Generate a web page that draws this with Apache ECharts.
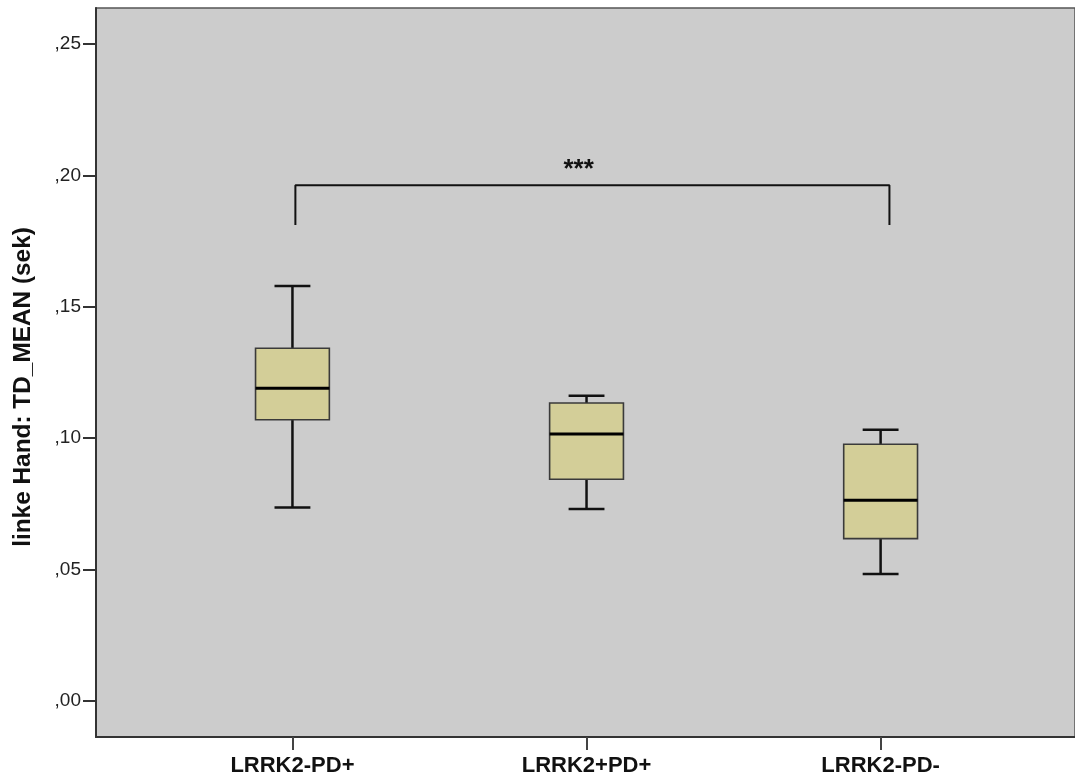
<!DOCTYPE html>
<html>
<head>
<meta charset="utf-8">
<script src="https://cdn.jsdelivr.net/npm/echarts@6/dist/echarts.min.js"></script>
<style>
  html, body { margin: 0; padding: 0; background: #ffffff; }
  #chart { width: 1075px; height: 782px; }
</style>
</head>
<body>
<div id="chart"></div>
<script>
// Groups and their box-plot summaries (seconds)
const categories = ['LRRK2-PD+', 'LRRK2+PD+', 'LRRK2-PD-'];
const whiskerLow  = [0.0736, 0.0731, 0.0483];
const quartile1   = [0.1070, 0.0844, 0.0618];
const medians     = [0.1190, 0.1016, 0.0764];
const quartile3   = [0.1342, 0.1134, 0.0977];
const whiskerHigh = [0.1579, 0.1162, 0.1032];

// Y axis ticks and their German-style labels
const yTicks = [0, 0.05, 0.10, 0.15, 0.20, 0.25];
const yTickLabels = [',00', ',05', ',10', ',15', ',20', ',25'];

// Significance bracket between the first and last group
const bracketX = [0.01, 2.03];
const bracketY = [0.1811, 0.1963];
const bracketText = '***';

const yTitle = 'linke Hand: TD_MEAN (sek)';

const boxData = categories.map((c, i) => [i, whiskerLow[i], quartile1[i], medians[i], quartile3[i], whiskerHigh[i]]);
const bracketData = [
  [bracketX[0], bracketY[0]],
  [bracketX[0], bracketY[1]],
  [bracketX[1], bracketY[1]],
  [bracketX[1], bracketY[0]]
];

const BOX_W = 0.251;   // box width in x units
const CAP_W = 0.122;   // whisker cap width in x units

function renderBox(params, api) {
  const x = api.value(0);
  const lo = api.coord([x, api.value(1)]);
  const q1 = api.coord([x, api.value(2)]);
  const md = api.coord([x, api.value(3)]);
  const q3 = api.coord([x, api.value(4)]);
  const hi = api.coord([x, api.value(5)]);
  const bw = api.size([BOX_W, 0])[0];
  const cw = api.size([CAP_W, 0])[0];
  const cx = lo[0];
  const lineStyle = { stroke: '#111111', lineWidth: 2.5 };
  return {
    type: 'group',
    children: [
      { type: 'line', shape: { x1: cx, y1: hi[1], x2: cx, y2: q3[1] }, style: lineStyle },
      { type: 'line', shape: { x1: cx, y1: q1[1], x2: cx, y2: lo[1] }, style: lineStyle },
      { type: 'line', shape: { x1: cx - cw / 2, y1: hi[1], x2: cx + cw / 2, y2: hi[1] }, style: lineStyle },
      { type: 'line', shape: { x1: cx - cw / 2, y1: lo[1], x2: cx + cw / 2, y2: lo[1] }, style: lineStyle },
      { type: 'rect', shape: { x: cx - bw / 2, y: q3[1], width: bw, height: q1[1] - q3[1] },
        style: { fill: '#d3ce98', stroke: '#3a3a3a', lineWidth: 1.6 } },
      { type: 'line', shape: { x1: cx - bw / 2, y1: md[1], x2: cx + bw / 2, y2: md[1] },
        style: { stroke: '#000000', lineWidth: 3 } }
    ]
  };
}

const chart = echarts.init(document.getElementById('chart'), null, { renderer: 'canvas' });

chart.setOption({
  animation: false,
  backgroundColor: '#ffffff',
  grid: {
    left: 96, top: 8, right: -3, bottom: 45,
    show: true,
    backgroundColor: '#cccccc',
    borderColor: '#555555',
    borderWidth: 1.5
  },
  xAxis: {
    type: 'value',
    min: -0.668,
    max: 2.661,
    splitLine: { show: false },
    axisLine: { show: true, onZero: false, lineStyle: { color: '#333333', width: 2 } },
    axisTick: {
      show: true, length: 13,
      customValues: categories.map((c, i) => i),
      lineStyle: { color: '#444444', width: 2 }
    },
    axisLabel: {
      customValues: categories.map((c, i) => i),
      formatter: v => categories[Math.round(v)],
      color: '#111111',
      fontFamily: 'Liberation Sans, Arial, sans-serif',
      fontWeight: 'bold',
      fontSize: 22,
      margin: 18
    }
  },
  yAxis: {
    type: 'value',
    min: -0.0137,
    max: 0.2637,
    splitLine: { show: false },
    axisLine: { show: true, onZero: false, lineStyle: { color: '#333333', width: 2 } },
    axisTick: {
      show: true, length: 13,
      customValues: yTicks,
      lineStyle: { color: '#333333', width: 2 }
    },
    axisLabel: {
      customValues: yTicks,
      formatter: v => yTickLabels[yTicks.findIndex(t => Math.abs(t - v) < 1e-6)],
      color: '#222222',
      fontFamily: 'Liberation Sans, Arial, sans-serif',
      fontSize: 19,
      margin: 15,
      padding: [6, 0, 0, 0]
    }
  },
  graphic: [{
    type: 'text',
    x: 24, y: 387,
    rotation: Math.PI / 2,
    scaleX: 1.06,
    style: {
      text: yTitle,
      fill: '#111111',
      font: 'bold 23px "Liberation Sans", Arial, sans-serif',
      align: 'center',
      verticalAlign: 'middle'
    }
  }],
  series: [
    {
      type: 'custom',
      renderItem: renderBox,
      encode: { x: 0, y: [1, 2, 3, 4, 5] },
      data: boxData,
      z: 3
    },
    {
      type: 'line',
      data: bracketData,
      symbol: 'none',
      lineStyle: { color: '#111111', width: 2 },
      z: 2,
      markPoint: {
        symbol: 'circle',
        symbolSize: 0,
        data: [{ coord: [0.973, 0.2020], value: bracketText }],
        label: {
          show: true,
          formatter: bracketText,
          color: '#111111',
          fontFamily: 'Liberation Sans, Arial, sans-serif',
          fontWeight: 'bold',
          fontSize: 26,
          position: 'inside'
        }
      }
    }
  ]
});
</script>
</body>
</html>
